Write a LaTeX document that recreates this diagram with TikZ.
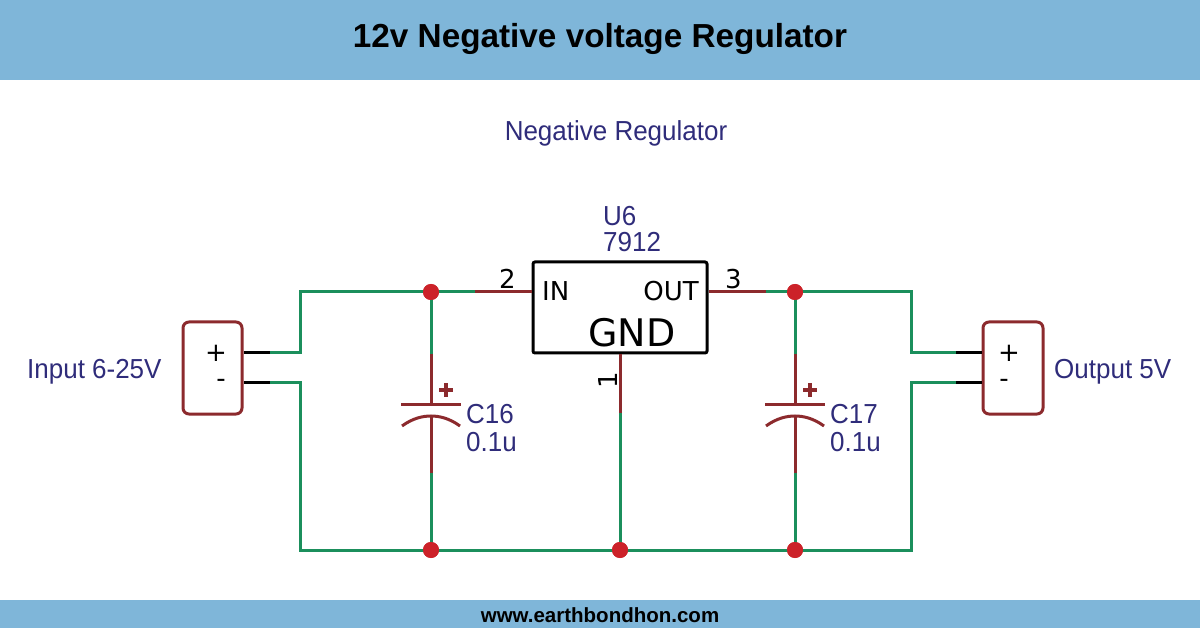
\documentclass[tikz,border=0pt]{standalone}
\usepackage{fontspec}
\setmainfont{Liberation Sans}
\newfontfamily\dejavu{DejaVu Sans}
\newfontfamily\narrowsans[FakeStretch=0.945]{Liberation Sans}
\definecolor{band}{HTML}{7FB6D9}
\definecolor{wire}{HTML}{1B8F5C}
\definecolor{pinred}{HTML}{8C2A2D}
\definecolor{navy}{HTML}{2F2C7A}
\definecolor{dotred}{HTML}{CC2229}
\newcommand{\fs}[1]{\fontsize{#1}{#1}\selectfont}
\tikzset{
  x=1pt,y=-1pt,
  wireline/.style={draw=wire,line width=3pt,line join=miter},
  pinline/.style={draw=pinred,line width=3pt},
  blackpin/.style={draw=black,line width=3pt},
  conbox/.style={draw=pinred,line width=3pt,rounded corners=6pt,fill=white},
  icbox/.style={draw=black,line width=3pt,rounded corners=2pt,fill=white},
  junction/.style={circle,fill=dotred,draw=none,minimum size=16pt,inner sep=0pt},
  bluelabel/.style={text=navy,inner sep=0pt,font=\narrowsans\fs{27.5}},
  blacklabel/.style={text=black,inner sep=0pt,font=\dejavu\fs{26}},
}
\begin{document}
\begin{tikzpicture}
\useasboundingbox (0,0) rectangle (1200,628);
\fill[band] (0,0) rectangle (1200,80);
\fill[band] (0,600) rectangle (1200,628);
\node[inner sep=0pt,anchor=base,font=\bfseries\fs{33.3}] (title) at (600,48) {12v Negative voltage Regulator};
\node[inner sep=0pt,anchor=base,font=\bfseries\fs{20.5}] (foot) at (600,622) {www.earthbondhon.com};
\node[bluelabel,anchor=base] (sub) at (616,141) {Negative Regulator};

% coordinates
\coordinate (ltop) at (300,292);
\coordinate (lp) at (300,353);
\coordinate (lm) at (300,383);
\coordinate (lbot) at (300,550);
\coordinate (rtop) at (911,292);
\coordinate (rp) at (911,353);
\coordinate (rm) at (911,383);
\coordinate (rbot) at (911,550);
\coordinate (inpin) at (475,292);
\coordinate (outpin) at (766,292);
\coordinate (gndpin) at (620,413);
\coordinate (lpe) at (270,353);
\coordinate (lme) at (270,383);
\coordinate (rpe) at (956,353);
\coordinate (rme) at (956,383);
\coordinate (c1t) at (431,354);
\coordinate (c1b) at (431,473);
\coordinate (c2t) at (795,354);
\coordinate (c2b) at (795,473);

% boxes
\node[icbox,minimum width=174pt,minimum height=91pt,inner sep=0pt] (ic) at (620,307.5) {};
\node[conbox,minimum width=59pt,minimum height=92pt,inner sep=0pt] (jl) at (212.5,368) {};
\node[conbox,minimum width=60pt,minimum height=92pt,inner sep=0pt] (jr) at (1013,368) {};

% junctions as named points
\node[junction] (d1) at (431,292) {};
\node[junction] (d2) at (795,292) {};
\node[junction] (d3) at (431,550) {};
\node[junction] (d4) at (620,550) {};
\node[junction] (d5) at (795,550) {};

% green wires
\draw[wireline] (lpe) -- (lp) -- (ltop) -- (inpin);
\draw[wireline] (lme) -- (lm) -- (lbot) -- (rbot) -- (rm) -- (rme);
\draw[wireline] (outpin) -- (rtop) -- (rp) -- (rpe);
\draw[wireline] (gndpin) -- (d4.center);
\draw[wireline] (d1.center) -- (c1t);
\draw[wireline] (c1b) -- (d3.center);
\draw[wireline] (d2.center) -- (c2t);
\draw[wireline] (c2b) -- (d5.center);

% pins
\draw[pinline] (inpin) -- (ic.west |- inpin);
\draw[pinline] (outpin) -- (ic.east |- outpin);
\draw[pinline] (ic.south) -- (gndpin);
\draw[blackpin] (jl.east |- lpe) -- (lpe);
\draw[blackpin] (jl.east |- lme) -- (lme);
\draw[blackpin] (jr.west |- rpe) -- (rpe);
\draw[blackpin] (jr.west |- rme) -- (rme);

% dots on top of the wires
\foreach \p in {d1,d2,d3,d4,d5} \fill[dotred] (\p) circle (8);

% capacitors
\foreach \cx/\tn/\bn in {431/c1t/c1b,795/c2t/c2b}{
  \draw[pinline] (\tn) -- (\cx,404);
  \draw[pinline] (\cx,416) -- (\bn);
  \draw[pinline] (\cx-30,404) -- (\cx+30,404);
  \draw[pinline] (\cx-29,426) .. controls (\cx-18,418) and (\cx-8,416) .. (\cx,416) .. controls (\cx+8,416) and (\cx+18,418) .. (\cx+29,426);
  \draw[draw=pinred,line width=3.4pt] (\cx+8,390) -- (\cx+22,390) (\cx+15,383) -- (\cx+15,397);
}

% labels
\node[bluelabel,anchor=base west] (l1) at (27,378) {Input 6-25V};
\node[bluelabel,anchor=base west] (l2) at (1054,378) {Output 5V};
\node[bluelabel,anchor=base west] (u6) at (603,226) {U6};
\node[bluelabel,anchor=base west] (v79) at (603,252) {7912};
\node[bluelabel,anchor=base west] (c16) at (466,424) {C16};
\node[bluelabel,anchor=base west] (c16v) at (466,451) {0.1u};
\node[bluelabel,anchor=base west] (c17) at (830,424) {C17};
\node[bluelabel,anchor=base west] (c17v) at (830,451) {0.1u};

\node[blacklabel,anchor=base west] (n2) at (499,289) {2};
\node[blacklabel,anchor=base west] (n3) at (725,289) {3};
\node[blacklabel,anchor=center,rotate=90] (n1) at (608,380) {1};
\node[blacklabel,anchor=base west] (in) at (542,301) {IN};
\node[blacklabel,anchor=base east] (out) at (699,301) {OUT};
\node[inner sep=0pt,anchor=base,font=\dejavu\fs{38}] (gnd) at (632,347) {GND};

\node[blacklabel,anchor=center] (lplus) at (216,353) {+};
\node[blacklabel,anchor=center] (lminus) at (221,383) {-};
\node[blacklabel,anchor=center] (rplus) at (1009,353) {+};
\node[blacklabel,anchor=center] (rminus) at (1004,383) {-};
\end{tikzpicture}
\end{document}
